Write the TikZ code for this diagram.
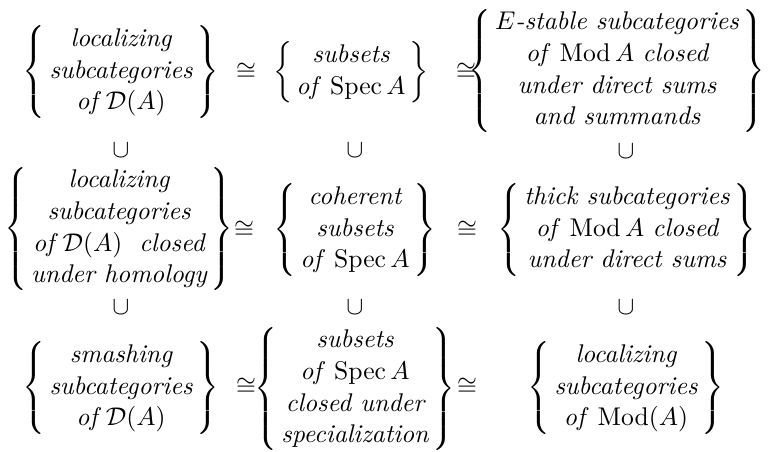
\documentclass[tikz,border=0pt]{standalone}
\usepackage{amsmath,amssymb}
\newcommand{\setcell}[1]{\left\{\begin{array}{@{\hspace{1.5pt}}c@{\hspace{1.5pt}}}#1\end{array}\right\}}
\begin{document}
\begin{tikzpicture}[x=0.390625pt,y=-0.390625pt,
  cell/.style={inner sep=0pt,anchor=center},
  rel/.style={inner sep=0pt,anchor=center}]
\useasboundingbox (0,0) rectangle (770,452);
\renewcommand{\arraystretch}{1.03}
% row 1
\node[cell] (a1) at (121,72) {$\setcell{\textit{localizing}\\ \textit{subcategories}\\ \textit{of}\ \mathcal{D}(A)}$};
\node[rel] (r11) at (246,72) {$\cong$};
\node[cell] (b1) at (351,72) {$\setcell{\textit{subsets}\\ \textit{of}\ \operatorname{Spec}A}$};
\node[rel] (r12) at (466,72) {$\cong$};
\node[cell] (c1) at (617,71) {$\setcell{E\textit{-stable subcategories}\\ \textit{of}\ \operatorname{Mod}A\ \textit{closed}\\ \textit{under direct sums}\\ \textit{and summands}}$};
% inclusions between rows 1 and 2
\node[rel] (u11) at (121,150) {$\cup$};
\node[rel] (u12) at (355,150) {$\cup$};
\node[rel] (u13) at (626,151) {$\cup$};
% row 2
\node[cell] (a2) at (119,229) {$\setcell{\textit{localizing}\\ \textit{subcategories}\\ \textit{of}\ \mathcal{D}(A)\ \ \textit{closed}\\ \textit{under homology}}$};
\node[rel] (r21) at (244,230) {$\cong$};
\node[cell] (b2) at (355,230) {$\setcell{\textit{coherent}\\ \textit{subsets}\\ \textit{of}\ \operatorname{Spec}A}$};
\node[rel] (r22) at (467,230) {$\cong$};
\node[cell] (c2) at (627,230) {$\setcell{\textit{thick subcategories}\\ \textit{of}\ \operatorname{Mod}A\ \textit{closed}\\ \textit{under direct sums}}$};
% inclusions between rows 2 and 3
\node[rel] (u21) at (121,307) {$\cup$};
\node[rel] (u22) at (355,307) {$\cup$};
\node[rel] (u23) at (626,307) {$\cup$};
% row 3
\node[cell] (a3) at (121,388) {$\setcell{\textit{smashing}\\ \textit{subcategories}\\ \textit{of}\ \mathcal{D}(A)}$};
\node[rel] (r31) at (246,387) {$\cong$};
\node[cell] (b3) at (355,389) {$\setcell{\textit{subsets}\\ \textit{of}\ \operatorname{Spec}A\\ \textit{closed under}\\ \textit{specialization}}$};
\node[rel] (r32) at (467,387) {$\cong$};
\node[cell] (c3) at (626,388) {$\setcell{\textit{localizing}\\ \textit{subcategories}\\ \textit{of}\ \operatorname{Mod}(A)}$};
\end{tikzpicture}
\end{document}
